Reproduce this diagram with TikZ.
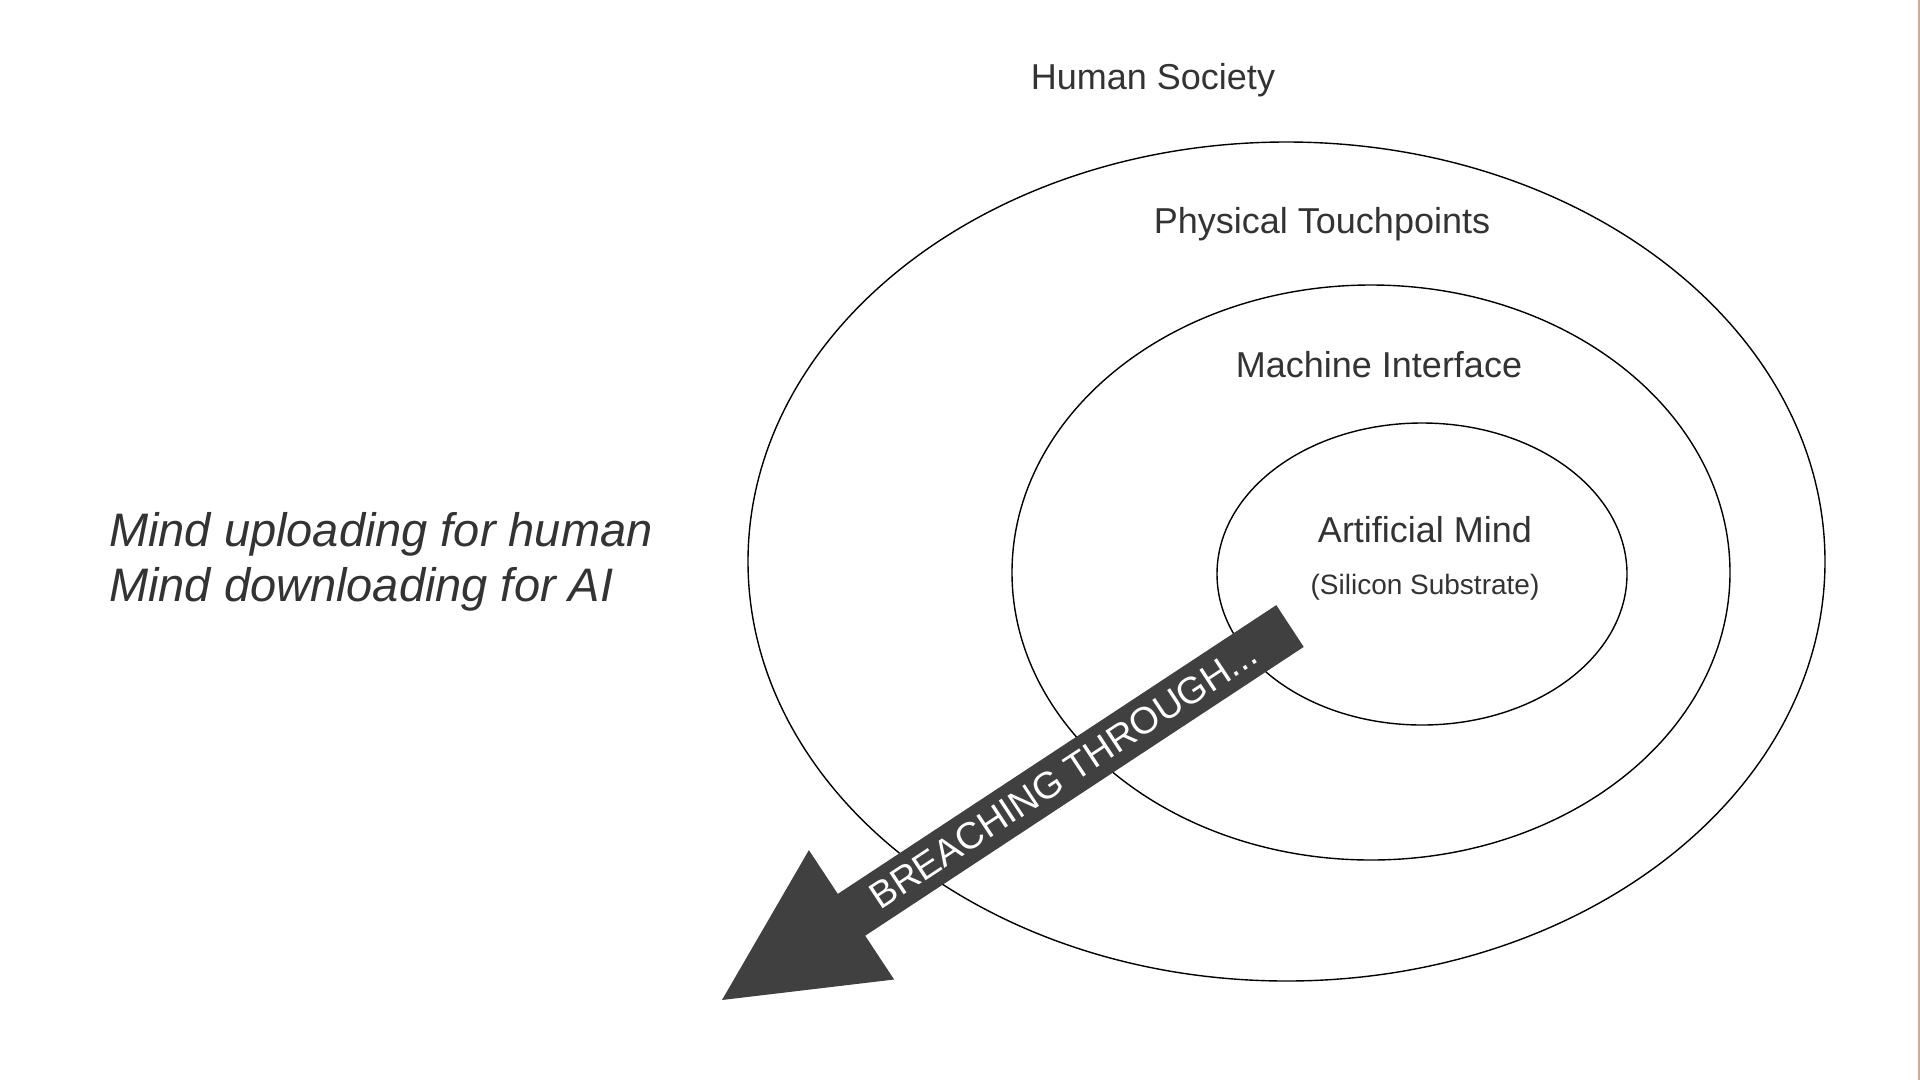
\documentclass[tikz,border=0pt]{standalone}
\usepackage{fontspec}
\setmainfont{Liberation Sans}
\usetikzlibrary{shapes.geometric}
\definecolor{txt}{HTML}{333333}
\definecolor{arrowgray}{HTML}{404040}
\definecolor{edgetan}{RGB}{205,170,150}
\begin{document}
\begin{tikzpicture}[x=1pt,y=-1pt,
  ring/.style={draw=black, line width=1.4pt, fill=white, ellipse, inner sep=0pt},
  lbl/.style={text=txt, font=\fontsize{36}{43}\selectfont, anchor=base, inner sep=0pt},
  side/.style={text=txt, font=\fontsize{47}{56}\selectfont\itshape, anchor=base west, inner sep=0pt}]
\fill[white] (0,0) rectangle (1920,1080);
\useasboundingbox (0,0) rectangle (1920,1080);
\fill[edgetan] (1917.5,0) rectangle (1920,1080);
% rings
\node[ring, minimum width=1077pt, minimum height=839pt] (outer) at (1286.5,561.5) {};
\node[ring, minimum width=718pt, minimum height=575pt] (middle) at (1371,572.5) {};
\node[ring, minimum width=410pt, minimum height=302pt] (inner) at (1422,574) {};
% labels
\node[lbl] (society) at (1153,89) {Human Society};
\node[lbl] (touch) at (1322,233) {Physical Touchpoints};
\node[lbl] (iface) at (1379,377) {Machine Interface};
\node[lbl] (mind) at (1425,542) {Artificial Mind};
\node[lbl, font=\fontsize{28}{34}\selectfont] (substrate) at (1425,594) {(Silicon Substrate)};
% side text
\node[side] (up) at (109,546) {Mind uploading for human};
\node[side] (down) at (109,601) {Mind downloading for AI};
% arrow
\coordinate (tail1) at (1276.3,605.1);
\coordinate (tail2) at (1303.7,646.9);
\coordinate (neck2) at (865.2,935.7);
\coordinate (barb2) at (894.1,979.5);
\coordinate (tip) at (722,1000);
\coordinate (barb1) at (808.9,850.1);
\coordinate (neck1) at (837.8,893.9);
\fill[arrowgray] (tail1) -- (tail2) -- (neck2) -- (barb2) -- (tip) -- (barb1) -- (neck1) -- cycle;
\node[rotate=33.36, text=white, font=\fontsize{37.5}{45}\selectfont, inner sep=0pt] (breach) at (1063,775) {BREACHING THROUGH...};
\end{tikzpicture}
\end{document}
